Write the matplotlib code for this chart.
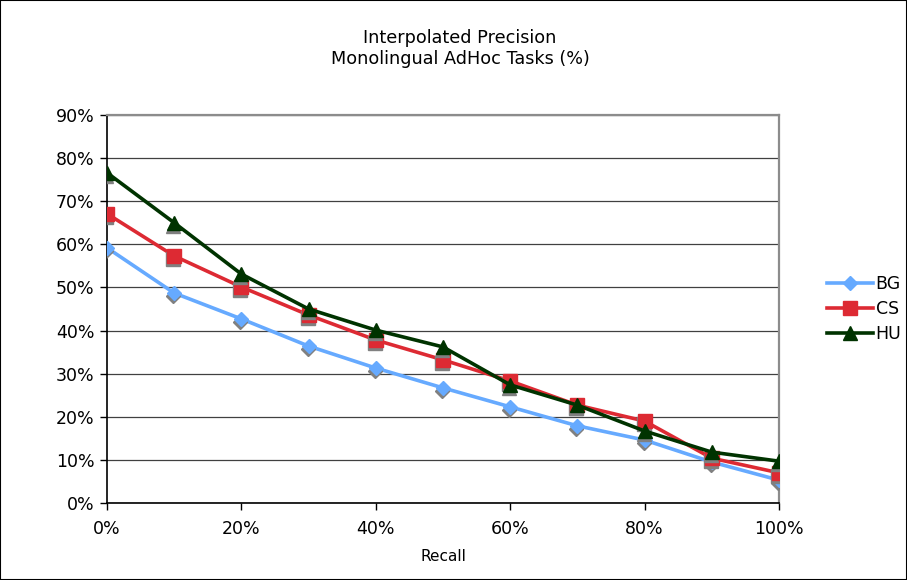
import matplotlib.pyplot as plt
import matplotlib.transforms as mtransforms
from matplotlib.ticker import MultipleLocator, FuncFormatter
from matplotlib.patches import Rectangle

recall = [0, 10, 20, 30, 40, 50, 60, 70, 80, 90, 100]
bg = [59.2, 48.7, 42.7, 36.4, 31.3, 26.7, 22.3, 17.9, 14.6, 9.5, 5.3]
cs = [67.1, 57.3, 50.1, 43.6, 37.8, 33.2, 28.3, 22.7, 19.0, 10.4, 7.0]
hu = [76.6, 65.0, 53.1, 45.0, 40.1, 36.2, 27.4, 22.7, 16.7, 11.8, 9.7]

series = [
    ("BG", bg, "#66AAFF", "D", 7.5),
    ("CS", cs, "#DD2A33", "s", 9.5),
    ("HU", hu, "#003300", "^", 9.5),
]

plt.rcParams['font.family'] = ['DejaVu Sans']

fig = plt.figure(figsize=(9.07, 5.80), dpi=100)
ax = fig.add_axes([107/907, 77/580, 672/907, 388/580])

shadow = mtransforms.offset_copy(ax.transData, fig=fig, x=-1, y=-3, units='dots')

for i, (name, vals, col, mk, ms) in enumerate(series):
    z = 3 + i * 3
    ax.plot(recall, vals, color=col, lw=2.6, zorder=z, solid_joinstyle='round')
    ax.plot(recall, vals, ls='none', marker=mk, ms=ms, color='#808080',
            mec='#808080', transform=shadow, zorder=z + 1)
    ax.plot(recall, vals, ls='none', marker=mk, ms=ms, color=col, mec=col, zorder=z + 2)
    ax.plot([], [], color=col, lw=2.6, marker=mk, ms=ms, label=name)

ax.set_xlim(0, 100)
ax.set_ylim(0, 90)
ax.xaxis.set_major_locator(MultipleLocator(20))
ax.yaxis.set_major_locator(MultipleLocator(10))
pct = FuncFormatter(lambda v, p: f"{v:.0f}%")
ax.xaxis.set_major_formatter(pct)
ax.yaxis.set_major_formatter(pct)
ax.tick_params(labelsize=12.5, length=5, direction='out', color='black', width=1)
ax.tick_params(axis='x', pad=7)
ax.tick_params(axis='y', pad=4)
ax.grid(axis='y', color='#404040', lw=0.9, zorder=1)
ax.set_axisbelow(True)

for s in ['left', 'bottom']:
    ax.spines[s].set_color('black')
    ax.spines[s].set_linewidth(1.2)
for s in ['top', 'right']:
    ax.spines[s].set_color('#8c8c8c')
    ax.spines[s].set_linewidth(1.6)

ax.set_xlabel("Recall", fontsize=11, labelpad=8)

fig.text(460/907, 1 - 38/580, "Interpolated Precision", ha='center', va='center', fontsize=12.7)
fig.text(460/907, 1 - 59/580, "Monolingual AdHoc Tasks (%)", ha='center', va='center', fontsize=12.7)

ax.legend(loc='center left', bbox_to_anchor=(827/907, 1 - 309/580),
          bbox_transform=fig.transFigure, frameon=False, fontsize=12.5,
          handlelength=2.65, handletextpad=0.15, labelspacing=0.4, borderpad=0,
          borderaxespad=0)

fig.patches.append(Rectangle((0, 0), 1, 1, transform=fig.transFigure,
                             fill=False, ec='black', lw=1.5))

fig.savefig("out.png", dpi=100)
